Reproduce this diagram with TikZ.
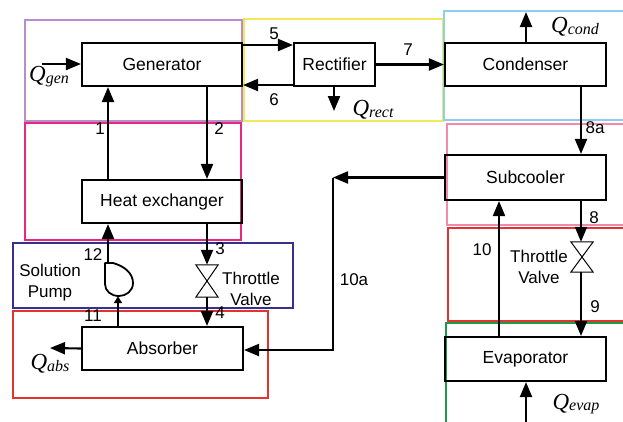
\documentclass[tikz,border=0pt]{standalone}
\usepackage{fontspec}
\setmainfont{Liberation Sans}
\newfontfamily\qfont{Liberation Serif}
\newcommand\qlab[2]{{\qfont\itshape\fontsize{23}{26}\selectfont #1\raisebox{-0.08em}{\fontsize{16}{18}\selectfont #2}}}
\usetikzlibrary{arrows.meta,calc}
\definecolor{fpurple}{HTML}{B98CCB}
\definecolor{fyellow}{HTML}{F3E85A}
\definecolor{fcyan}{HTML}{8CCFEE}
\definecolor{fmagenta}{HTML}{E6287F}
\definecolor{fpink}{HTML}{F08BB0}
\definecolor{fblue}{HTML}{3B2F8C}
\definecolor{fred}{HTML}{E2342C}
\definecolor{fgreen}{HTML}{1D9A4C}
\begin{document}
\begin{tikzpicture}[x=1pt,y=-1pt,
  box/.style={draw,line width=2.1pt,minimum width=160pt,minimum height=43pt,inner sep=0pt,font=\fontsize{17.5}{21}\selectfont},
  arr/.style={line width=2.1pt,-{Triangle[length=15pt,width=12pt]}},
  sarr/.style={line width=2.1pt,-{Triangle[length=7pt,width=8pt]}},
  lbl/.style={font=\fontsize{17}{21}\selectfont,inner sep=0pt},
  ql/.style={inner sep=0pt},
  frame/.style={line width=2pt},
  valve/.style={line width=1pt},
  hole/.style={inner sep=0pt}]
\clip (0,0) rectangle (623,421);
\fill[white] (0,0) rectangle (623,421);
% coloured frames
\draw[frame,fpurple] (25,20) rectangle (242,121);
\draw[frame,fyellow] (244,19) rectangle (443,121);
\draw[frame,fcyan] (444,11) rectangle (627,120);
\draw[frame,fmagenta] (25,123) rectangle (241,240);
\draw[frame,fpink] (447,124) rectangle (627,225);
\draw[frame,fblue] (13,243) rectangle (293,308);
\draw[frame,fred] (13,311) rectangle (268,398);
\draw[frame,fred] (448,228) rectangle (627,321);
\draw[frame,fgreen] (446,323) rectangle (627,424);
% boxes
\node[box] (gen) at (162,64.5) {Generator};
\node[box,minimum width=81pt] (rect) at (334.5,64.5) {Rectifier};
\node[box,minimum width=161pt] (cond) at (525.5,64.5) {Condenser};
\node[box] (hx) at (162,201.5) {Heat exchanger};
\node[box,minimum width=161pt] (abs) at (162.5,348.5) {Absorber};
\node[box,minimum width=161pt,minimum height=45pt] (sub) at (525.5,177.5) {Subcooler};
\node[box,minimum width=161pt,minimum height=44pt] (evap) at (525.5,359) {Evaporator};
% valves and pump
\node[hole,minimum width=22pt,minimum height=32pt] (v1) at (207,281) {};
\draw[valve] (v1.north west) -- (v1.north east) -- (v1.south west) -- (v1.south east) -- cycle;
\node[hole,minimum width=22pt,minimum height=30pt] (v2) at (582,257) {};
\draw[valve] (v2.north west) -- (v2.north east) -- (v2.south west) -- (v2.south east) -- cycle;
\node[hole,minimum width=28pt,minimum height=33pt] (pump) at (119,279.5) {};
\draw[line width=1.8pt,line join=round] (105,263) -- (113,263)
  .. controls (124,266) and (133,273) .. (133,283)
  .. controls (133,291) and (126,296) .. (119,296)
  .. controls (111,296) and (105,291) .. (105,284) -- cycle;
% columns and rows
\coordinate (xa) at (108,0);
\coordinate (xb) at (207,0);
\coordinate (xp) at (118,0);
\coordinate (xq) at (334,0);
\coordinate (xc) at (526,0);
\coordinate (xd) at (581,0);
\coordinate (xe) at (499,0);
\coordinate (xf) at (333,0);
\coordinate (ya) at (0,45);
\coordinate (yb) at (0,85);
\coordinate (qg) at (42,64);
\coordinate (qa) at (50,348);
\coordinate (qc) at (526,12);
\coordinate (qr) at (334,111);
\coordinate (qe) at (526,424);
% connectors
\draw[arr] (qg) -- (gen.west |- qg);
\draw[arr] (hx.north -| xa) -- (gen.south -| xa);
\draw[arr] (gen.south -| xb) -- (hx.north -| xb);
\draw[arr] (gen.east |- ya) -- (rect.west |- ya);
\draw[arr] (rect.west |- yb) -- (gen.east |- yb);
\draw[arr] (rect.south -| xq) -- (qr);
\draw[arr] (rect.east) -- (cond.west);
\draw[arr] (cond.north -| xc) -- (qc);
\draw[arr] (cond.south -| xd) -- (sub.north -| xd);
\draw[arr] (sub.west) -- (sub.west -| xf);
\draw[arr] (sub.west -| xf) -- ($(abs.east -| xf)+(0,1.5)$) -- ($(abs.east)+(0,1.5)$);
\draw[arr] (sub.south -| xd) -- (v2.north -| xd);
\draw[arr] (v2.south -| xd) -- (evap.north -| xd);
\draw[arr] (evap.north -| xe) -- (sub.south -| xe);
\draw[arr] (qe) -- (evap.south -| xc);
\draw[arr] (hx.south -| xb) -- (v1.north);
\draw[arr] (v1.south) -- (abs.north -| xb);
\draw[sarr] (abs.north -| xp) -- (pump.south -| xp);
\draw[arr] (pump.north -| xa) -- (hx.south -| xa);
\draw[arr] (abs.west) -- (qa);
% labels
\node[lbl] (l1) at (100,129) {1};
\node[lbl] (l2) at (219,129) {2};
\node[lbl] (l5) at (274,34) {5};
\node[lbl] (l6) at (274,100) {6};
\node[lbl] (l7) at (408,50) {7};
\node[lbl] (l8a) at (595,128) {8a};
\node[lbl] (l8) at (594,218) {8};
\node[lbl] (l9) at (595,307) {9};
\node[lbl] (l10) at (482,250) {10};
\node[lbl] (l10a) at (354,280) {10a};
\node[lbl] (l3) at (220,249) {3};
\node[lbl] (l4) at (220,313) {4};
\node[lbl] (l12) at (93,255) {12};
\node[lbl] (l11) at (93,316) {11};
\node[lbl,align=center] (lsp) at (50,283) {Solution\\Pump};
\node[lbl,align=center] (ltv1) at (251,289) {Throttle\\Valve};
\node[lbl,align=center] (ltv2) at (539,267) {Throttle\\Valve};
\node[ql] (lqg) at (49,77) {\qlab{Q}{gen}};
\node[ql] (lqr) at (373,110) {\qlab{Q}{rect}};
\node[ql] (lqc) at (575,27) {\qlab{Q}{cond}};
\node[ql] (lqa) at (50,364) {\qlab{Q}{abs}};
\node[ql] (lqe) at (576,404) {\qlab{Q}{evap}};
\end{tikzpicture}
\end{document}
